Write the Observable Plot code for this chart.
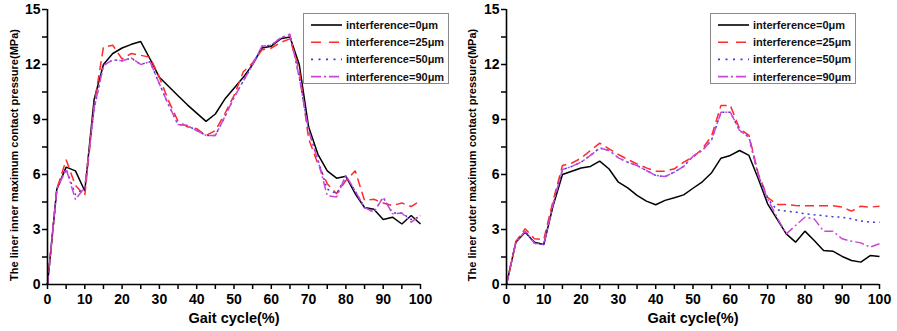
<!DOCTYPE html>
<html>
<head>
<meta charset="utf-8">
<script src="https://cdn.jsdelivr.net/npm/d3@7"></script>
<script src="https://cdn.jsdelivr.net/npm/@observablehq/plot@0.6"></script>
<style>
  html, body { margin: 0; padding: 0; background: #fff; }
  #wrap { position: relative; width: 897px; height: 331px; overflow: hidden; font-family: "Liberation Sans", Arial, sans-serif; }
  .panel { position: absolute; top: 0; }
  .legend { position: absolute; }
</style>
</head>
<body>
<div id="wrap">
  <div id="left" class="panel" style="left:0px"></div>
  <div id="right" class="panel" style="left:448px"></div>
</div>
<script>
// ---------- data ----------
const gait = [0,2.5,5,7.5,10,12.5,15,17.5,20,22.5,25,27.5,30,32.5,35,37.5,40,42.5,45,47.5,50,
              52.5,55,57.5,60,62.5,65,67.5,70,72.5,75,77.5,80,82.5,85,87.5,90,92.5,95,97.5,100];

const seriesNames = ["interference=0μm","interference=25μm","interference=50μm","interference=90μm"];

// inner liner
const inner0  = [0,5.2,6.4,6.2,5.1,10.1,12.0,12.6,12.9,13.1,13.25,12.3,11.3,10.8,10.3,9.8,9.35,8.9,9.3,10.1,10.7,
                 11.3,12.0,12.9,13.0,13.4,13.5,12.0,8.6,7.1,6.2,5.8,5.9,4.95,4.2,4.1,3.55,3.67,3.3,3.76,3.3];
const inner25 = [0,5.2,6.8,5.4,4.85,9.8,12.95,13.05,12.3,12.6,12.5,12.4,11.3,10.0,8.9,8.6,8.5,8.13,8.4,9.3,10.3,
                 11.6,12.1,12.8,12.9,13.2,13.4,11.7,7.95,6.58,5.5,4.95,5.67,6.2,4.58,4.65,4.45,4.3,4.45,4.25,4.58];
const inner50 = [0,5.2,6.3,4.9,5.3,9.6,11.95,12.25,12.2,12.35,12.0,12.15,10.95,9.77,8.73,8.67,8.4,8.13,8.13,9.13,10.2,
                 11.1,12.0,13.0,13.05,13.45,13.65,11.3,8.4,6.8,5.2,4.95,5.9,5.1,4.2,3.95,4.76,3.9,3.9,3.55,3.7];
const inner90 = [0,5.2,6.3,4.64,5.3,9.6,11.95,12.25,12.2,12.35,12.0,12.15,10.95,9.77,8.73,8.67,8.4,8.13,8.13,9.13,10.2,
                 11.1,12.0,13.0,13.05,13.45,13.65,11.3,8.4,6.77,4.85,4.77,5.95,5.1,4.2,3.95,4.76,3.86,3.9,3.4,3.76];

// outer liner
const outer0  = [0,2.3,2.85,2.31,2.18,4.3,6.0,6.18,6.35,6.44,6.73,6.3,5.58,5.27,4.86,4.55,4.35,4.59,4.73,4.89,5.25,
                 5.6,6.1,6.89,7.04,7.31,7.04,5.77,4.4,3.58,2.76,2.31,2.91,2.4,1.85,1.82,1.53,1.31,1.22,1.58,1.53];
const outer25 = [0,2.35,3.04,2.49,2.46,4.58,6.49,6.62,6.89,7.31,7.71,7.4,7.09,6.82,6.58,6.36,6.18,6.18,6.31,6.67,6.95,
                 7.4,8.1,9.77,9.77,8.49,8.13,6.04,4.76,4.36,4.36,4.31,4.29,4.29,4.29,4.29,4.22,4.0,4.27,4.22,4.27];
const outer50 = [0,2.3,2.9,2.25,2.18,4.4,6.27,6.44,6.67,7.04,7.45,7.31,6.91,6.67,6.49,6.22,5.95,5.89,6.13,6.44,7.0,
                 7.31,7.89,9.4,9.4,8.4,8.04,5.95,4.67,4.07,4.0,3.95,3.86,3.8,3.75,3.7,3.67,3.58,3.46,3.4,3.4];
const outer90 = [0,2.3,2.9,2.25,2.18,4.4,6.27,6.44,6.67,7.04,7.45,7.31,6.91,6.67,6.49,6.22,5.95,5.89,6.13,6.44,7.0,
                 7.31,7.89,9.4,9.4,8.4,8.04,5.95,4.67,3.67,2.76,3.22,3.67,3.58,2.91,2.91,2.49,2.36,2.27,2.04,2.22];

const xTicks = [0,5,10,15,20,25,30,35,40,45,50,55,60,65,70,75,80,85,90,95,100];
const yTicks = [0,1.5,3,4.5,6,7.5,9,10.5,12,13.5,15];

// ---------- styles ----------
const FONT = "'Liberation Sans', Arial, Helvetica, sans-serif";
const styles = [
  {stroke: "#000000", dash: null},
  {stroke: "#ff2a2a", dash: "9,5"},
  {stroke: "#3b3bdc", dash: "2,4"},
  {stroke: "#cc44d8", dash: "9,3,2,3"}
];

function rows(ys) { return gait.map((g, i) => ({x: g, y: ys[i]})); }

function panel(seriesList, yLabel, marginLeft, marginRight, width, labelDx) {
  const marks = [];
  seriesList.forEach((ys, i) => {
    const st = styles[i];
    marks.push(Plot.line(rows(ys), {x: "x", y: "y", stroke: st.stroke, strokeWidth: 1.5,
      strokeDasharray: st.dash || undefined, strokeLinejoin: "miter", strokeLinecap: "butt"}));
  });
  marks.push(Plot.ruleX([0], {stroke: "#000", strokeWidth: 1.6}));
  marks.push(Plot.ruleY([0], {stroke: "#000", strokeWidth: 1.6}));
  marks.push(Plot.axisX({ticks: xTicks, tickFormat: d => d % 10 === 0 ? String(d) : "",
    tickSize: 5, tickPadding: 5, fontSize: 14, fontWeight: "bold", strokeWidth: 1.5, label: null}));
  marks.push(Plot.axisY({ticks: yTicks, tickFormat: d => d % 3 === 0 ? String(d) : "",
    tickSize: 5, tickPadding: 2, fontSize: 14, fontWeight: "bold", strokeWidth: 1.5, label: null}));
  marks.push(Plot.text(["Gait cycle(%)"], {frameAnchor: "bottom", lineAnchor: "bottom", dy: 38,
    fontSize: 14.5, fontWeight: "bold", fill: "#000"}));
  marks.push(Plot.text([yLabel], {frameAnchor: "left", textAnchor: "middle", lineAnchor: "middle",
    rotate: -90, dx: labelDx, dy: 8, fontSize: 11, fontWeight: "bold", fill: "#000"}));
  return Plot.plot({
    width, height: 331,
    marginLeft, marginRight, marginTop: 9, marginBottom: 47,
    x: {domain: [0, 100]},
    y: {domain: [0, 15]},
    style: {fontFamily: FONT, background: "#fff", color: "#000", overflow: "visible"},
    marks
  });
}

document.getElementById("left").appendChild(
  panel([inner0, inner25, inner50, inner90], "The liner inner maximum contact pressure(MPa)", 47, 28, 448, -33));
document.getElementById("right").appendChild(
  panel([outer0, outer25, outer50, outer90], "The liner outer maximum contact pressure(MPa)", 58, 18, 449, -34));

// ---------- legends ----------
function legend(left, top) {
  const w = 145, h = 70;
  const div = d3.select("#wrap").append("div").attr("class", "legend")
    .style("left", left + "px").style("top", top + "px");
  const svg = div.append("svg").attr("width", w + 1).attr("height", h + 1)
    .style("font-family", FONT).style("display", "block");
  svg.append("rect").attr("x", 0.5).attr("y", 0.5).attr("width", w).attr("height", h)
    .attr("fill", "#fff").attr("stroke", "#8a8a8a").attr("stroke-width", 1);
  seriesNames.forEach((name, i) => {
    const yy = 12 + i * 17.2;
    const st = styles[i];
    svg.append("line").attr("x1", 8).attr("x2", 39).attr("y1", yy).attr("y2", yy)
      .attr("stroke", st.stroke).attr("stroke-width", 1.6)
      .attr("stroke-dasharray", i === 1 ? "10,8" : i === 2 ? "2,5.5" : i === 3 ? "10,3,2,3" : null);
    svg.append("text").attr("x", 43).attr("y", yy + 4).attr("font-size", 11)
      .attr("font-weight", "bold").attr("fill", "#111").text(name);
  });
}
legend(303, 13);
legend(710, 13);
</script>
</body>
</html>
